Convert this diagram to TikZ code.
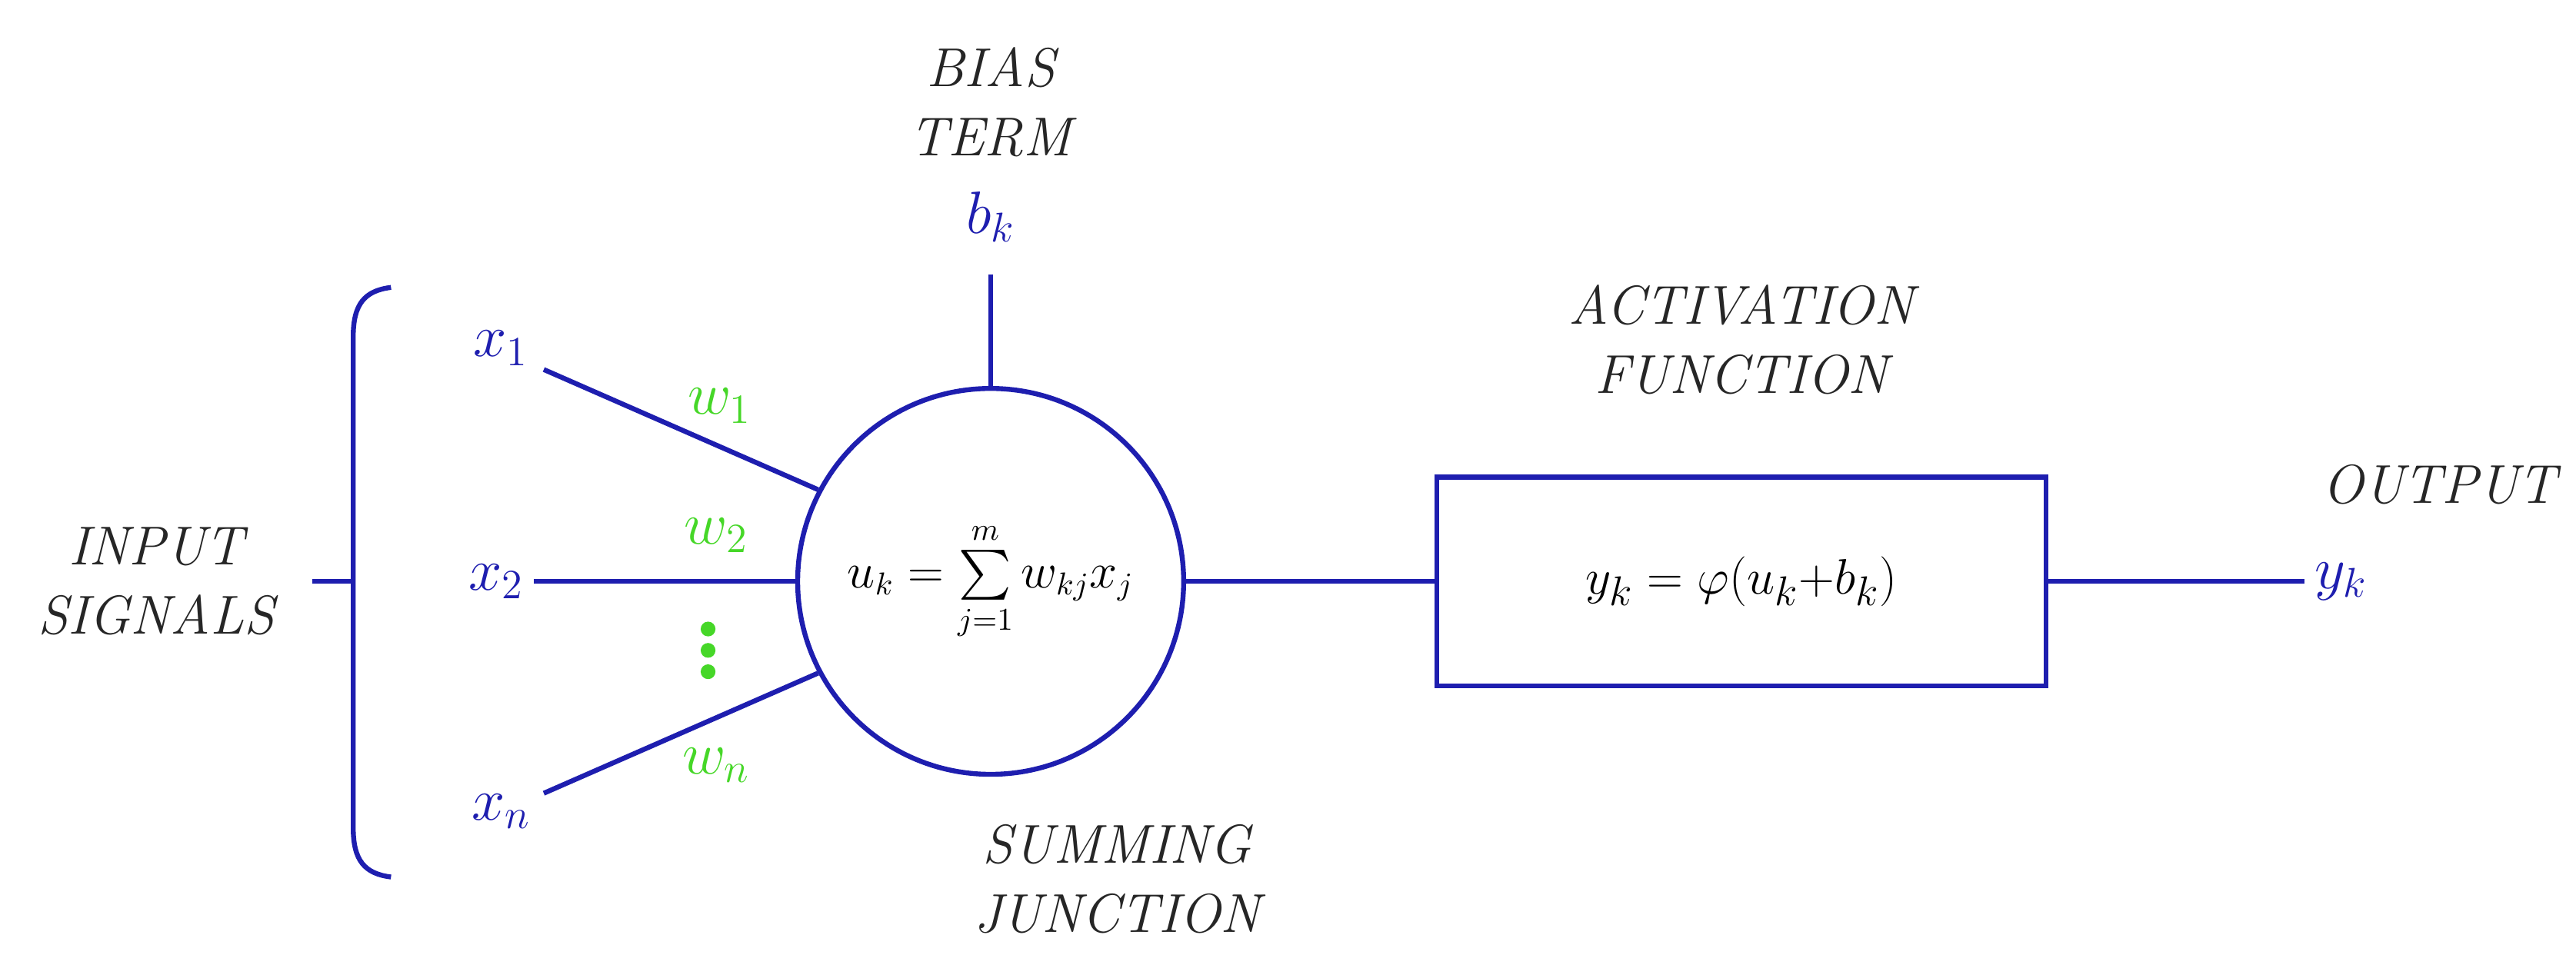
\documentclass[tikz,border=0pt]{standalone}
\usepackage{amsmath}
\begin{document}
\definecolor{nb}{RGB}{30,30,175}
\definecolor{ng}{RGB}{70,215,40}
\begin{tikzpicture}[x=0.02cm,y=-0.02cm,
  ln/.style={draw=nb,line width=1.7pt},
  lbl/.style={font=\fontsize{19}{24}\selectfont\itshape,align=center,text=black!85},
  sym/.style={text=nb,font=\fontsize{22}{26}\selectfont},
  wt/.style={text=ng,font=\fontsize{22}{26}\selectfont}]
\useasboundingbox (0,0) rectangle (1568,587.5);
% brace
\draw[ln] (238,175) .. controls (222,177) and (215,185) .. (215,205) -- (215,504) .. controls (215,524) and (222,532) .. (238,534);
\draw[ln] (190,354) -- (215,354);
\node[lbl] at (95,354) {INPUT\\SIGNALS};
% summing junction
\node[circle,ln,minimum size=4.7cm,inner sep=0pt] (s) at (603,354) {};
\node at (s) {\fontsize{16}{20}\selectfont$u_{k}=\sum\limits_{j=1}^{m}w_{kj}x_{j}$};
% inputs
\node[sym] (x1) at (305,212) {$x_1$};
\node[sym] (x2) at (302,354) {$x_2$};
\node[sym] (xn) at (305,494) {$x_n$};
\coordinate (e1) at (331,225);
\coordinate (en) at (331,483);
\draw[ln] (e1) -- (s.152);
\draw[ln] (x2) -- (s.west);
\draw[ln] (en) -- (s.208);
\node[wt] at (438,247) {$w_1$};
\node[wt] at (436,326) {$w_2$};
\node[wt] at (436,466) {$w_n$};
\foreach \yy in {383,396,409} \fill[ng] (431,\yy) circle (4.5);
% bias
\node[sym] (b) at (603,132) {$b_k$};
\coordinate (bt) at (603,167);
\draw[ln] (bt) -- (s.north);
\node[lbl] at (603,62) {BIAS\\TERM};
% activation
\node[ln,minimum width=7.42cm,minimum height=2.54cm] (box) at (1060,354) {};
\node at (box) {\fontsize{19}{24}\selectfont$y_k=\varphi(u_k{+}b_k)$};
\draw[ln] (s.east) -- (box.west);
\node[lbl] at (1060,207) {ACTIVATION\\FUNCTION};
\node[sym] (y) at (1425,354) {$y_k$};
\draw[ln] (box.east) -- (y.west);
\node[lbl] at (1485,295) {OUTPUT};
\node[lbl] at (680,535) {SUMMING\\JUNCTION};
\end{tikzpicture}
\end{document}
